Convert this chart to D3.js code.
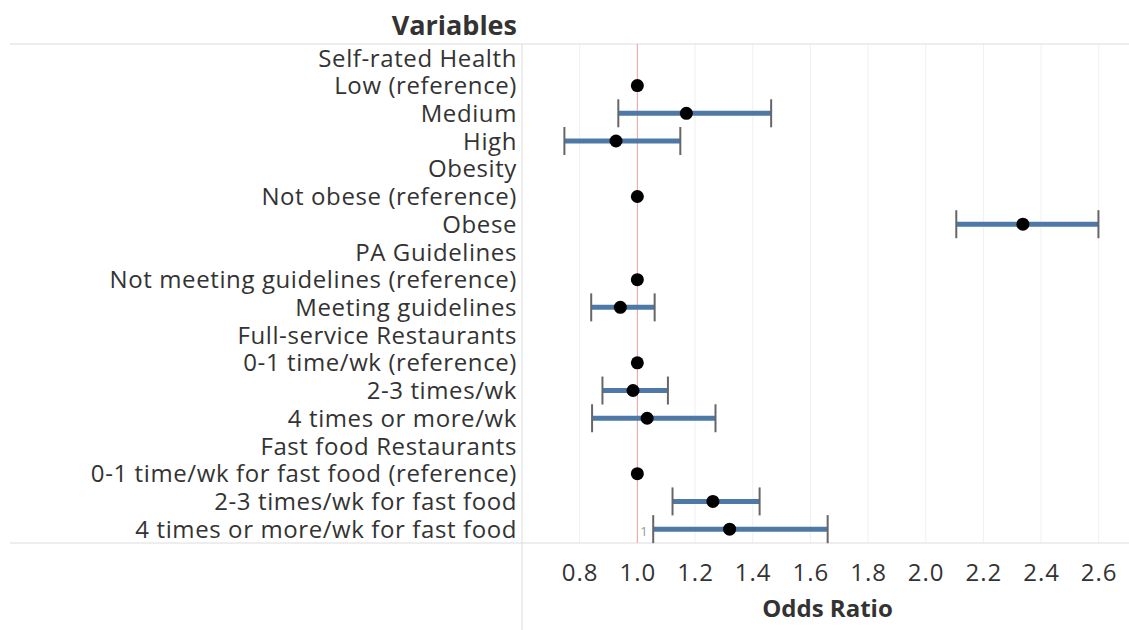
<!DOCTYPE html>
<html>
<head>
<meta charset="utf-8">
<script src="https://cdn.jsdelivr.net/npm/d3@7"></script>
<style>
  body { margin: 0; background: #fff; }
  svg { font-family: "Open Sans", "Noto Sans", sans-serif; }
</style>
</head>
<body>
<svg id="chart"></svg>
<script>
// row labels, top to bottom
const labels = [
  'Self-rated Health', 'Low (reference)', 'Medium', 'High',
  'Obesity', 'Not obese (reference)', 'Obese',
  'PA Guidelines', 'Not meeting guidelines (reference)', 'Meeting guidelines',
  'Full-service Restaurants', '0-1 time/wk (reference)', '2-3 times/wk', '4 times or more/wk',
  'Fast food Restaurants', '0-1 time/wk for fast food (reference)', '2-3 times/wk for fast food', '4 times or more/wk for fast food'
];
// odds ratios (null = header row)
const oddsRatio = [null, 1.0, 1.17, 0.926, null, 1.0, 2.337, null, 1.0, 0.941, null, 1.0, 0.985, 1.034, null, 1.0, 1.262, 1.32];
const ciLower   = [null, null, 0.934, 0.747, null, null, 2.106, null, null, 0.84, null, null, 0.879, 0.843, null, null, 1.122, 1.055];
const ciUpper   = [null, null, 1.464, 1.149, null, null, 2.599, null, null, 1.06, null, null, 1.106, 1.271, null, null, 1.424, 1.66];
const xTicks = [0.8, 1.0, 1.2, 1.4, 1.6, 1.8, 2.0, 2.2, 2.4, 2.6];

const width = 1129, height = 630;
const paneLeft = 522, paneTop = 44, paneBottom = 543;

const svg = d3.select('#chart').attr('width', width).attr('height', height);

const x = d3.scaleLinear().domain([0.6, 2.705]).range([paneLeft, width]);
const y = d3.scaleBand().domain(labels).range([paneTop, paneBottom]);

const rows = labels.map((l, i) => ({label: l, or: oddsRatio[i], lo: ciLower[i], hi: ciUpper[i]}));

// gridlines
svg.append('g').selectAll('line')
  .data(xTicks)
  .join('line')
    .attr('x1', d => x(d)).attr('x2', d => x(d))
    .attr('y1', paneTop).attr('y2', paneBottom)
    .attr('stroke', '#f0f0f0').attr('stroke-width', 1);

// frame lines
svg.append('line').attr('x1', 10).attr('x2', width).attr('y1', paneTop).attr('y2', paneTop)
  .attr('stroke', '#dcdcdc');
svg.append('line').attr('x1', 10).attr('x2', width).attr('y1', paneBottom).attr('y2', paneBottom)
  .attr('stroke', '#dcdcdc');
svg.append('line').attr('x1', paneLeft).attr('x2', paneLeft).attr('y1', paneTop).attr('y2', height)
  .attr('stroke', '#dcdcdc');

// reference line at 1
svg.append('line')
  .attr('x1', x(1)).attr('x2', x(1))
  .attr('y1', paneTop).attr('y2', paneBottom)
  .attr('stroke', '#efa0a0').attr('stroke-width', 1);
svg.append('text')
  .attr('x', x(1) + 3).attr('y', paneBottom - 7)
  .attr('font-size', 13).attr('fill', '#999')
  .text('1');

const cy = d => y(d.label) + y.bandwidth() / 2;
const ci = rows.filter(d => d.lo != null);

// CI bars
svg.append('g').selectAll('line')
  .data(ci)
  .join('line')
    .attr('x1', d => x(d.lo)).attr('x2', d => x(d.hi))
    .attr('y1', cy).attr('y2', cy)
    .attr('stroke', '#4e79a7').attr('stroke-width', 5);

// caps
const caps = ci.flatMap(d => [{v: d.lo, r: d}, {v: d.hi, r: d}]);
svg.append('g').selectAll('line')
  .data(caps)
  .join('line')
    .attr('x1', d => x(d.v)).attr('x2', d => x(d.v))
    .attr('y1', d => cy(d.r) - 14).attr('y2', d => cy(d.r) + 14)
    .attr('stroke', '#666').attr('stroke-width', 2);

// points
svg.append('g').selectAll('circle')
  .data(rows.filter(d => d.or != null))
  .join('circle')
    .attr('cx', d => x(d.or)).attr('cy', cy)
    .attr('r', 6.5).attr('fill', '#000');

// row labels
svg.append('g').selectAll('text')
  .data(labels)
  .join('text')
    .attr('x', 517).attr('y', d => y(d) + y.bandwidth() / 2)
    .attr('dy', '0.36em').attr('text-anchor', 'end')
    .attr('font-size', 24).attr('fill', '#333')
    .attr('letter-spacing', 0.6)
    .text(d => d);

// header
svg.append('text')
  .attr('x', 517).attr('y', 35).attr('text-anchor', 'end')
  .attr('font-size', 27).attr('font-weight', 'bold').attr('fill', '#333')
  .text('Variables');

// x axis
const xAxis = d3.axisBottom(x).tickValues(xTicks).tickFormat(d3.format('.1f')).tickSize(0).tickPadding(21);
const xAxisG = svg.append('g').attr('transform', `translate(0,${paneBottom})`).call(xAxis);
xAxisG.select('.domain').remove();
xAxisG.selectAll('text')
  .attr('font-size', 24).attr('fill', '#333')
  .attr('letter-spacing', 1)
  .attr('font-family', '"Open Sans", "Noto Sans", sans-serif');

svg.append('text')
  .attr('x', (paneLeft + width) / 2 + 2).attr('y', 617).attr('text-anchor', 'middle')
  .attr('font-size', 24).attr('font-weight', 'bold').attr('fill', '#333')
  .text('Odds Ratio');
</script>
</body>
</html>
